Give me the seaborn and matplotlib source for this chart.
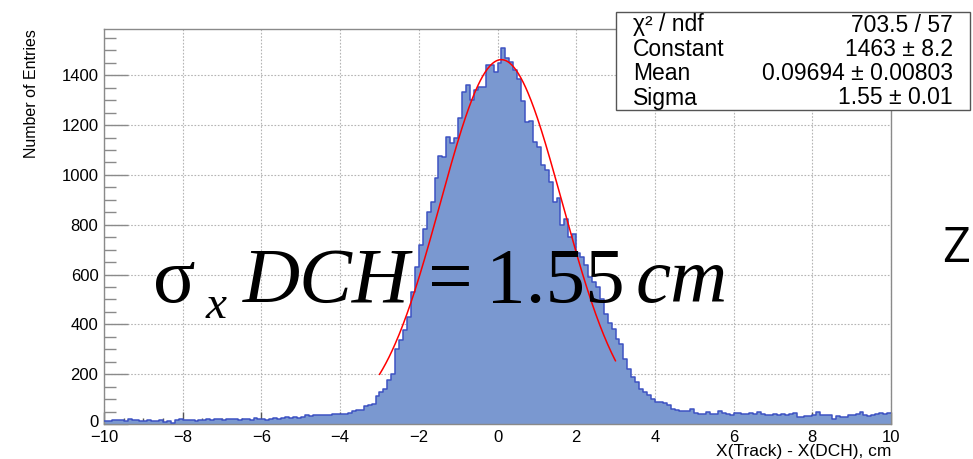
import numpy as np
import pandas as pd
import matplotlib
matplotlib.use("Agg")
import matplotlib.pyplot as plt
import matplotlib.patches as mpatches
from matplotlib.ticker import MultipleLocator
from matplotlib.transforms import ScaledTranslation
import seaborn as sns

# histogram: 200 bins of 0.1 cm from -10 to 10 (counts)
n_bins = 200
x_lo, x_hi = -10.0, 10.0

left_tail = [14, 13, 15, 17, 16, 13, 19, 15, 16, 14,
             12, 15, 14, 11, 16, 10, 12, 6, 17, 19,
             16, 15, 16, 14, 15, 18, 20, 17, 21, 20,
             18, 22, 19, 21, 17, 22, 20, 18, 23, 19,
             21, 18, 22, 24, 20, 26, 27, 23, 28, 25,
             27, 38, 34, 38, 37, 35]                      # -10.0 .. -4.5
rise = [38, 38, 40, 41, 41, 42, 44, 54, 56, 55,
        72, 76, 80, 114, 128, 142, 175, 202, 302, 336,
        376, 430, 530, 630]                                # -4.4 .. -2.1
core = [720, 781, 852, 893, 987, 1076, 1073, 1152, 1130, 1148,
        1228, 1335, 1362, 1302, 1342, 1353, 1355, 1440, 1440, 1412,
        1449, 1510, 1468, 1453, 1420, 1384, 1295, 1214, 1218, 1134,
        1114, 1040, 1020, 973, 893, 907, 799, 822, 749, 762]  # -2.0 .. 1.9
fall = [687, 671, 638, 591, 571, 551, 500, 440, 405, 380,
        340, 320, 262, 220, 190, 168, 140, 128, 118, 101,
        90, 88, 84, 75, 62, 55, 54, 53, 54]                 # 2.0 .. 4.8
right_tail = [60, 45, 41, 41, 47, 42, 40, 51, 44, 40,
              38, 45, 43, 41, 41, 43, 41, 47, 39, 38,
              36, 40, 38, 41, 37, 41, 43, 30, 27, 34,
              34, 35, 47, 38, 38, 37, 22, 31, 30, 29,
              36, 35, 40, 47, 37, 34, 35, 40, 43, 41,
              44]                                          # 4.9 .. 9.9
counts = left_tail + rise + core + fall + right_tail

# gaussian fit result shown in the stats box
fit_const = 1463.0
fit_mean = 0.09694
fit_sigma = 1.55
fit_range = (-3.0, 3.0)

stat_names = ["\u03c7\u00b2 / ndf", "Constant", "Mean", "Sigma"]
stat_values = ["703.5 / 57", "1463 \u00b1 8.2", "0.09694 \u00b1 0.00803", "1.55 \u00b1 0.01"]

fill_color = "#7a98d0"
edge_color = "#3d52c2"

sns.set_style("white")
plt.rcParams["font.family"] = ["Liberation Sans", "DejaVu Sans"]
plt.rcParams["text.color"] = "black"
plt.rcParams["axes.labelcolor"] = "black"
plt.rcParams["xtick.labelcolor"] = "black"
plt.rcParams["ytick.labelcolor"] = "black"

fig = plt.figure(figsize=(9.73, 4.59), dpi=100)
ax = fig.add_axes([104 / 973, 1 - 424 / 459, 787 / 973, 395 / 459])

bin_edges = list(np.linspace(x_lo, x_hi, n_bins + 1))
centers = np.linspace(x_lo + 0.05, x_hi - 0.05, n_bins)
hist_df = pd.DataFrame({"x": centers, "w": counts})

sns.histplot(data=hist_df, x="x", weights="w", bins=bin_edges, element="step",
             fill=True, color=fill_color, alpha=1.0, linewidth=0, ax=ax, zorder=2)
sns.histplot(data=hist_df, x="x", weights="w", bins=bin_edges, element="step",
             fill=False, color=edge_color, linewidth=1.1, ax=ax, zorder=3)

# fit curve over its fit range
fx = np.linspace(fit_range[0], fit_range[1], 300)
fy = fit_const * np.exp(-0.5 * ((fx - fit_mean) / fit_sigma) ** 2)
sns.lineplot(x=fx, y=fy, color="red", linewidth=1.1, ax=ax, zorder=4)

ax.set_xlim(x_lo, x_hi)
ax.set_ylim(0, 1586)
ax.xaxis.set_minor_locator(MultipleLocator(0.5))
ax.yaxis.set_major_locator(MultipleLocator(200))
ax.yaxis.set_minor_locator(MultipleLocator(50))
xt = np.arange(-10, 11, 2)
ax.set_xticks(xt)
ax.set_xticklabels([f"\u2212{abs(v)}" if v < 0 else f"{v}" for v in xt])

ax.tick_params(axis="y", which="major", direction="in", length=17, width=1.0,
               color="#8a8a8a", labelsize=12, pad=4, left=True, right=False)
ax.tick_params(axis="y", which="minor", direction="in", length=8.5, width=1.0,
               color="#8a8a8a", left=True, right=False)
ax.tick_params(axis="x", which="major", direction="in", length=8.5, width=1.0,
               color="#555555", labelsize=12, pad=4.5, bottom=True, top=False)
ax.tick_params(axis="x", which="minor", direction="in", length=4.5, width=1.0,
               color="#555555", bottom=True, top=False)

ax.grid(True, which="major", linestyle=(0, (1.5, 1.5)), color="#b5b5b5", linewidth=0.8)
ax.set_axisbelow(True)
for s in ax.spines.values():
    s.set_color("#8a8a8a")
    s.set_linewidth(1.0)

ax.set_ylabel("Number of Entries", fontsize=11.5, loc="top")
ax.yaxis.set_label_coords(-0.082, 1.0)
ax.set_xlabel("X(Track) - X(DCH), cm", fontsize=12.5, loc="right")
ax.xaxis.set_label_coords(1.0, -0.05)

# stats box
box = mpatches.Rectangle((616 / 973, 1 - 110 / 459), 354 / 973, 98 / 459,
                         transform=fig.transFigure, facecolor="white",
                         edgecolor="#555555", linewidth=1.0, zorder=5)
fig.add_artist(box)
row_y = [25, 49, 74, 98]
for name, val, yy in zip(stat_names, stat_values, row_y):
    fig.text(633 / 973, 1 - yy / 459, name, fontsize=16.5, va="center", ha="left", zorder=6)
    fig.text(953 / 973, 1 - yy / 459, val, fontsize=16.5, va="center", ha="right", zorder=6)

# big annotation: sigma_x DCH = 1.55 cm
big = 57
base = 1 - 301.7 / 459
serif = ["Liberation Serif", "DejaVu Serif"]
fig.text(153 / 973, base, "\u03c3", fontsize=big, family=serif, va="baseline", zorder=6)
fig.text(206 / 973, 1 - 318 / 459, "x", fontsize=34, family=serif, style="italic",
         va="baseline", zorder=6)
fig.text(243 / 973, base, "DCH", fontsize=big, family=serif, style="italic",
         va="baseline", zorder=6)
fig.text(428 / 973, base, "=", fontsize=big, family=serif, va="baseline", zorder=6)
fig.text(486 / 973, base, "1.55", fontsize=big, family=serif, va="baseline", zorder=6)
fig.text(636 / 973, base, "cm", fontsize=big, family=serif, style="italic",
         va="baseline", zorder=6)

fig.text(942 / 973, 1 - 262 / 459, "Z", fontsize=35, family=["Open Sans", "DejaVu Sans"],
         va="baseline", zorder=6)

# nudge the y "0" label up a little so it clears the "-10" below it
fig.canvas.draw()
for tick in ax.yaxis.get_major_ticks():
    if abs(tick.get_loc()) < 1e-9:
        tick.label1.set_transform(tick.label1.get_transform()
                                  + ScaledTranslation(0, 2.5 / 72, fig.dpi_scale_trans))

fig.savefig("out.png", dpi=100, facecolor="white")
